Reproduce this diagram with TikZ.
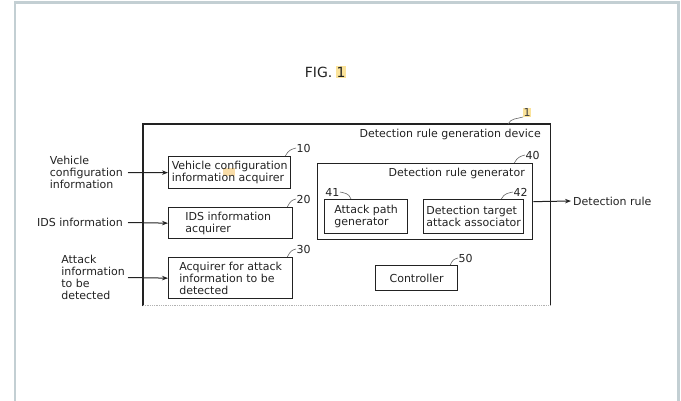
\documentclass[tikz,border=0pt]{standalone}
\usepackage{fontspec}
\setmainfont{DejaVu Sans}
\usetikzlibrary{arrows.meta}
\definecolor{framecol}{HTML}{C3CFD3}
\definecolor{ink}{HTML}{222222}
\definecolor{hilite}{HTML}{FBE39A}
\definecolor{hiliteorange}{HTML}{F9DDA8}
\tikzset{
  txt/.style={font=\fontsize{11}{12}\selectfont, text=ink, inner sep=0pt},
  blockbox/.style={draw=ink, line width=1.3pt, inner sep=2pt, align=left,
    font=\fontsize{11}{12}\selectfont, text=ink, anchor=north west},
  refnum/.style={font=\fontsize{11}{12}\selectfont, text=ink, inner sep=0.5pt},
  leader/.style={draw=black!60, line width=0.6pt},
  flow/.style={draw=ink, line width=1pt, -{Stealth[length=6pt,width=4.5pt]}}
}
\begin{document}
\begin{tikzpicture}[x=1pt,y=-1pt]
\useasboundingbox (0,0) rectangle (681,400);
% page frame, open at the bottom
\draw[framecol, line width=2.5pt] (15,401) -- (15,2.5) -- (678.5,2.5) -- (678.5,401);

% title
\node[fill=hilite, inner sep=0.8pt, font=\fontsize{14}{16}\selectfont, text=ink] (fignum) at (341,72) {1};
\node[font=\fontsize{14}{16}\selectfont, text=ink, inner sep=0pt, anchor=east] (figlbl) at ([xshift=-3pt]fignum.west) {FIG.};

% device outline
\node[minimum width=407pt, minimum height=181pt, inner sep=0pt, anchor=north west] (dev) at (143,124) {};
\draw[ink, line width=1.3pt] ([yshift=-1pt]dev.south west) -- (dev.north west) -- (dev.north east) -- ([yshift=-1pt]dev.south east);
\draw[black!30, line width=0.8pt, densely dotted] (dev.south west) -- (dev.south east);
\node[txt, anchor=east] (devlbl) at (541,134) {Detection rule generation device};

% acquirers
\fill[hiliteorange] (223,168) rectangle (235,176);
\node[blockbox, minimum width=122pt, minimum height=32pt] (vca) at (168,156)
  {Vehicle configuration\\information acquirer};
\node[blockbox, minimum width=124pt, minimum height=31pt, align=left] (ids) at (168,207)
  {IDS information\\acquirer\hspace*{45pt}};
\node[blockbox, minimum width=124pt, minimum height=41pt] (aad) at (168,257)
  {Acquirer for attack\\information to be\\detected};

% detection rule generator
\node[blockbox, minimum width=215pt, minimum height=76pt] (gen) at (317,163) {};
\node[txt, anchor=east] (genlbl) at (525,173) {Detection rule generator};
\node[blockbox, minimum width=83pt, minimum height=34pt] (apg) at (324,199)
  {Attack path\\generator};
\node[blockbox, minimum width=100pt, minimum height=34pt] (dta) at (423,199)
  {Detection target\\attack associator};

% controller
\node[blockbox, align=center, minimum width=82pt, minimum height=25pt] (ctl) at (375,265) {Controller};

% inputs and output
\node[txt, align=left, anchor=east] (invci) at (123,172.5)
  {Vehicle\\configuration\\information};
\node[txt, anchor=east] (inids) at (123,222.5) {IDS information};
\node[txt, align=left, anchor=east] (inaad) at (125,277.5)
  {Attack\\information\\to be\\detected};
\node[txt, anchor=west] (outrule) at (573,201) {Detection rule};

\draw[flow] ([xshift=5pt]invci.east) -- (vca.west);
\draw[flow] ([xshift=5pt]inids.east) -- (ids.west);
\draw[flow] ([xshift=3pt]inaad.east) -- (aad.west);
\draw[flow] (gen.east) -- ([xshift=-2pt]outrule.west);

% reference numerals with leaders
\node[refnum, fill=hilite, anchor=south west, text=black!75] (n1) at (523,117) {1};
\node[refnum, anchor=west] (n10) at (296,148) {10};
\node[refnum, anchor=west] (n20) at (296,199) {20};
\node[refnum, anchor=west] (n30) at (296,249) {30};
\node[refnum, anchor=west] (n40) at (525,155) {40};
\node[refnum, anchor=east] (n41) at (340,192) {41};
\node[refnum, anchor=west] (n42) at (513,192) {42};
\node[refnum, anchor=west] (n50) at (458,258) {50};

\draw[leader] (508,124) .. controls +(3,-6) and +(-6,2) .. (n1.south west);
\draw[leader] ([xshift=-6pt]vca.north east) .. controls +(3,-6) and +(-4,1) .. (n10.west);
\draw[leader] ([xshift=-6pt]ids.north east) .. controls +(3,-6) and +(-4,1) .. (n20.west);
\draw[leader] ([xshift=-6pt]aad.north east) .. controls +(3,-6) and +(-4,1) .. (n30.west);
\draw[leader] ([xshift=-19pt]gen.north east) .. controls +(3,-6) and +(-4,1) .. (n40.west);
\draw[leader] ([xshift=27pt]apg.north west) .. controls +(-2,-6) and +(4,1) .. (n41.east);
\draw[leader] ([xshift=-23pt]dta.north east) .. controls +(3,-6) and +(-4,1) .. (n42.west);
\draw[leader] ([xshift=-8pt]ctl.north east) .. controls +(2,-5) and +(-4,1) .. (n50.west);
\end{tikzpicture}
\end{document}
